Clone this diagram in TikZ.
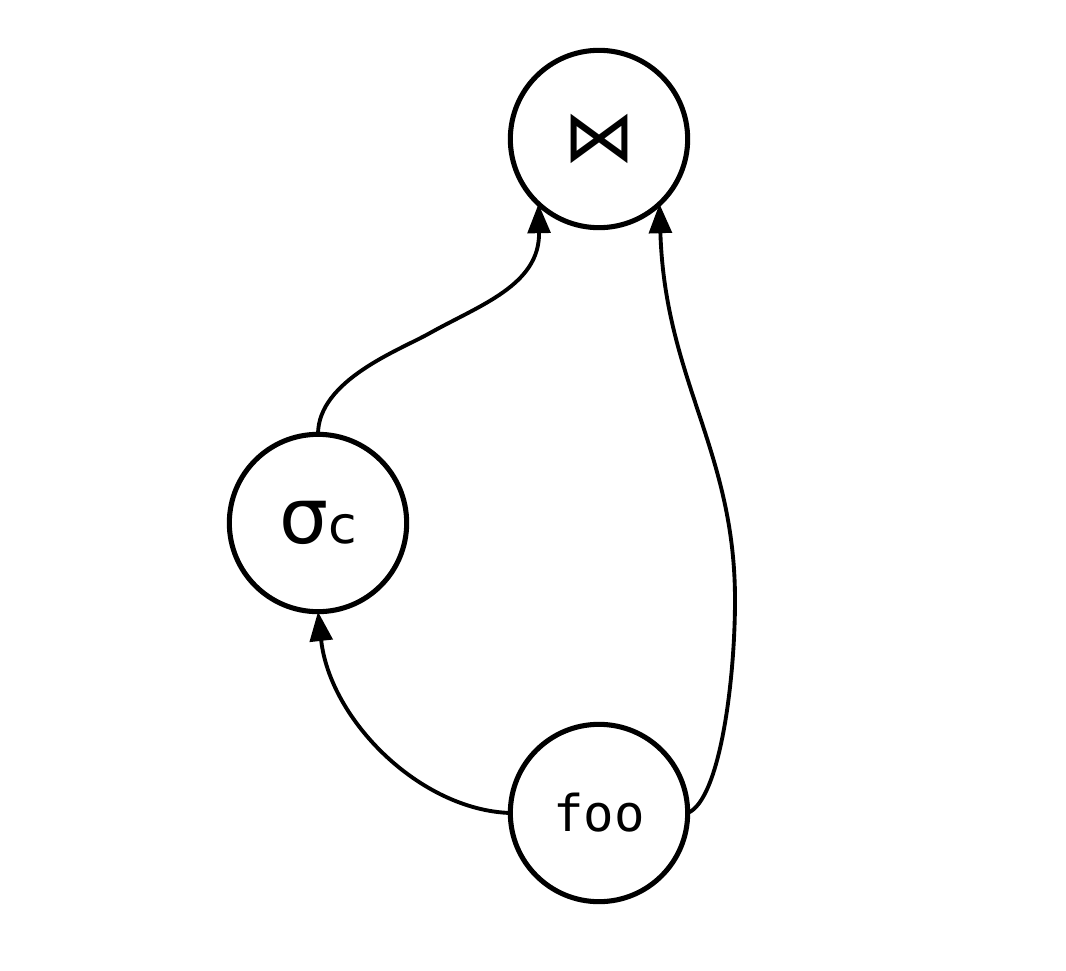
\documentclass[tikz,border=0pt]{standalone}
\usepackage{fontspec}
\setmainfont{DejaVu Sans}
\newfontfamily\monofnt{DejaVu Sans Mono}
\usetikzlibrary{arrows.meta}
\begin{document}
\begin{tikzpicture}[x=0.75pt,y=-0.75pt,
  opnode/.style={circle,draw,line width=3.8pt,minimum size=133pt,inner sep=0pt,outer sep=0pt},
  edge/.style={line width=2.9pt,-{Triangle[length=22pt,width=17pt]}}]
\useasboundingbox (0,0) rectangle (1066,970);
\node[opnode] (join) at (599,139) {\fontsize{54}{60}\selectfont ⋈};
\node[opnode] (sig) at (318,523) {\fontsize{58}{64}\selectfont σ\fontsize{39}{44}\selectfont c};
\node[opnode] (foo) at (599,813) {\monofnt\fontsize{38}{44}\selectfont foo};
\draw[edge] (foo.west) .. controls (420,810) and (330,720) .. (sig.south);
\draw[edge] (sig.north) .. controls (318,380) and (400,350) .. (430,333)
  .. controls (480,305) and (540,285) .. (join.-133);
\draw[edge] (foo.east) .. controls (720,800) and (735,680) .. (735,600)
  .. controls (735,450) and (665,380) .. (join.-47);
\end{tikzpicture}
\end{document}
